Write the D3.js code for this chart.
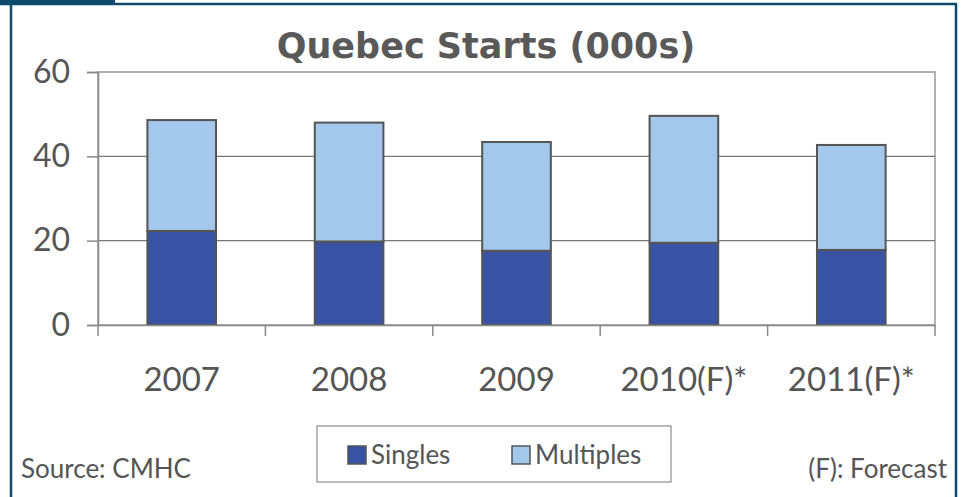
<!DOCTYPE html>
<html><head><meta charset="utf-8">
<script src="https://cdn.jsdelivr.net/npm/d3@7"></script>
<style>html,body{margin:0;padding:0;background:#fff;}svg{display:block;}</style>
</head><body>
<script>
const categories = ["2007", "2008", "2009", "2010(F)*", "2011(F)*"];
const singles = [22.3, 19.8, 17.6, 19.5, 17.8];
const multiples = [26.3, 28.2, 25.8, 30.1, 24.9];
const seriesNames = ["Singles", "Multiples"];
const seriesColors = ["#3953a4", "#a3c8eb"];
const yTicks = [0, 20, 40, 60];

(function () {
const W = 961, H = 497;
const font = "Lato, 'Open Sans', sans-serif";
const txt = "#555";
const svg = d3.select("body").append("svg").attr("width", W).attr("height", H);

// outer frame
svg.append("rect").attr("x", 0).attr("y", 0).attr("width", 115).attr("height", 5).attr("fill", "#0e4a6e");
svg.append("line").attr("x1", 0).attr("x2", 957).attr("y1", 4).attr("y2", 4).attr("stroke", "#0e4a6e").attr("stroke-width", 2.5);
svg.append("line").attr("x1", 11).attr("x2", 11).attr("y1", 4).attr("y2", H).attr("stroke", "#0e4a6e").attr("stroke-width", 2.5);
svg.append("line").attr("x1", 956).attr("x2", 956).attr("y1", 4).attr("y2", H).attr("stroke", "#0e4a6e").attr("stroke-width", 2.5);

const pL = 98, pR = 935, pT = 72, pB = 325;
const x = d3.scaleBand().domain(categories).range([pL, pR]).paddingInner(0.59).paddingOuter(0.295);
const xTickScale = d3.scaleBand().domain(categories).range([pL, pR]);
const y = d3.scaleLinear().domain([0, 60]).range([pB, pT]);

// title
svg.append("text").attr("x", 486).attr("y", 58).attr("text-anchor", "middle")
  .attr("font-family", "'DejaVu Sans', sans-serif").attr("font-weight", "bold").attr("font-size", 35)
  .attr("fill", "#595959").text("Quebec Starts (000s)");

// plot area border
svg.append("rect").attr("x", pL).attr("y", pT).attr("width", pR - pL).attr("height", pB - pT)
  .attr("fill", "none").attr("stroke", "#999").attr("stroke-width", 1.5);

// gridlines
svg.append("g").selectAll("line").data(yTicks.filter(d => d > 0 && d < 60)).join("line")
  .attr("x1", pL).attr("x2", pR).attr("y1", d => y(d)).attr("y2", d => y(d))
  .attr("stroke", "#777").attr("stroke-width", 1.2);

// y axis
const yAxis = svg.append("g").attr("transform", `translate(${pL},0)`)
  .call(d3.axisLeft(y).tickValues(yTicks).tickSize(11).tickPadding(17));
yAxis.select(".domain").attr("stroke", "#888").attr("stroke-width", 1.5);
yAxis.selectAll(".tick line").attr("stroke", "#888").attr("stroke-width", 1.5);
yAxis.selectAll("text").attr("font-family", font).attr("font-size", 32).attr("fill", txt);

// stacked bars
const data = categories.map((c, i) => ({cat: c, Singles: singles[i], Multiples: multiples[i]}));
const stack = d3.stack().keys(seriesNames)(data);
svg.append("g").selectAll("g").data(stack).join("g")
  .attr("fill", (d, i) => seriesColors[i])
  .selectAll("rect").data(d => d).join("rect")
  .attr("x", d => x(d.data.cat)).attr("width", x.bandwidth())
  .attr("y", d => y(d[1])).attr("height", d => y(d[0]) - y(d[1]))
  .attr("stroke", "#555").attr("stroke-width", 2);

// x axis
const xAxis = svg.append("g").attr("transform", `translate(0,${pB})`)
  .call(d3.axisBottom(xTickScale).tickSize(0).tickPadding(0));
xAxis.select(".domain").attr("stroke", "#888").attr("stroke-width", 1.5);
xAxis.selectAll("text").attr("font-family", font).attr("font-size", 33).attr("fill", txt)
  .attr("y", 66).attr("dy", null);
const bounds = categories.map(c => xTickScale(c)).concat([pR]);
svg.append("g").selectAll("line").data(bounds).join("line")
  .attr("x1", d => d).attr("x2", d => d).attr("y1", pB).attr("y2", pB + 11)
  .attr("stroke", "#888").attr("stroke-width", 1.5);

// legend
const lg = svg.append("g");
lg.append("rect").attr("x", 317).attr("y", 426).attr("width", 354).attr("height", 56)
  .attr("fill", "#fff").attr("stroke", "#777").attr("stroke-width", 1);
const legendX = [348, 512];
seriesNames.forEach((n, i) => {
  lg.append("rect").attr("x", legendX[i]).attr("y", 446).attr("width", 18).attr("height", 18)
    .attr("fill", seriesColors[i]).attr("stroke", "#555").attr("stroke-width", 1.5);
  lg.append("text").attr("x", legendX[i] + 23).attr("y", 464)
    .attr("font-family", font).attr("font-size", 26).attr("fill", txt).text(n);
});

// footnotes
svg.append("text").attr("x", 21).attr("y", 478).attr("font-family", font).attr("font-size", 26)
  .attr("fill", txt).text("Source: CMHC");
svg.append("text").attr("x", 947).attr("y", 478).attr("text-anchor", "end").attr("font-family", font).attr("font-size", 26)
  .attr("fill", txt).text("(F): Forecast");
})();
</script>
</body></html>
